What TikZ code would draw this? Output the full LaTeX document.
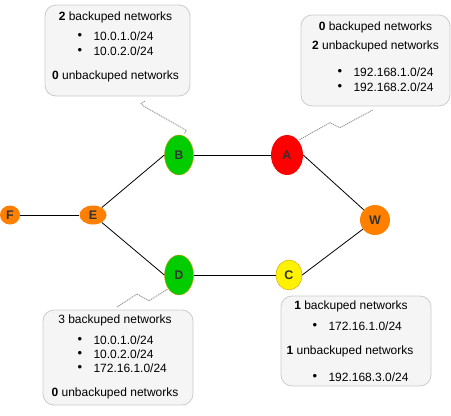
\documentclass[tikz,border=0pt]{standalone}
\usepackage{fontspec}
\setmainfont{Liberation Sans}
\usepackage{tikz}
\definecolor{orng}{RGB}{255,128,0}
\definecolor{grn}{RGB}{0,204,0}
\definecolor{edgeorng}{RGB}{215,155,0}
\definecolor{txt}{RGB}{51,51,51}
\definecolor{boxfill}{RGB}{245,245,245}
\definecolor{boxline}{RGB}{204,204,204}
\definecolor{lnk}{RGB}{150,150,150}
\tikzset{
  router/.style={ellipse, inner sep=0pt, text=txt, font=\fontsize{12.5}{14}\selectfont\bfseries},
  note/.style={draw=boxline, fill=boxfill, rounded corners=11pt, line width=0.8pt},
  txtline/.style={text=black, inner sep=0pt, font=\fontsize{12}{14}\selectfont},
  bul/.style={text=black, inner sep=0pt, font=\fontsize{13}{14}\selectfont},
  wire/.style={line width=0.8pt},
  callout/.style={lnk, line width=0.9pt, dash pattern=on 1.2pt off 0.8pt}
}
\usetikzlibrary{shapes.geometric}
\begin{document}
\begin{tikzpicture}[x=1pt,y=-1pt]
\useasboundingbox (0,0) rectangle (451,416);
\node [router, fill=orng, minimum width=20pt, minimum height=19pt] (F) at (10,215) {F};
\node [router, fill=orng, minimum width=27pt, minimum height=19pt] (E) at (93,215) {E};
\node [router, fill=grn, draw=edgeorng, minimum width=29pt, minimum height=40pt] (B) at (179,155) {B};
\node [router, fill=grn, draw=edgeorng, minimum width=29pt, minimum height=40pt] (D) at (179,275) {D};
\node [router, fill=red, minimum width=32pt, minimum height=40pt] (A) at (287,155) {A};
\node [router, fill=orng, minimum width=30pt, minimum height=30pt] (W) at (375,220) {W};
\node [router, fill=yellow, draw=edgeorng, minimum width=26pt, minimum height=30pt] (C) at (289,275) {C};
\draw [wire] (F) -- (E);
\draw [wire] (E) -- (B.west);
\draw [wire] (E) -- (D.west);
\draw [wire] (B) -- (A);
\draw [wire] (A.east) -- (W);
\draw [wire] (D) -- (C);
\draw [wire] (C.east) -- (W);
\draw [callout] (145,101) -- (141,103.5) -- (143.5,106) -- (186.5,130.5) -- (184.5,133.5);
\draw [callout] (372.7,110) -- (340,127.7) -- (330,122.7) -- (299,140);
\draw [callout] (117,307) -- (137,294) -- (149,300.7) -- (168,289);
\node [note, minimum width=145pt, minimum height=91pt] (noteB) at (117.5,50.5) {};
\node [txtline] (bB) at (115.5,17.3) {\textbf{2} backuped networks};
\node [bul] (bB1) at (80,36) {\textbullet};
\node [txtline, anchor=west] (nB1) at (93.3,36) {10.0.1.0/24};
\node [bul] (bB2) at (80,51) {\textbullet};
\node [txtline, anchor=west] (nB2) at (93.3,51) {10.0.2.0/24};
\node [txtline] (uB) at (115.5,76.7) {\textbf{0} unbackuped networks};
\node [note, minimum width=149pt, minimum height=91pt] (noteA) at (375.5,60.5) {};
\node [txtline] (bA) at (375.5,27.3) {\textbf{0} backuped networks};
\node [txtline] (uA) at (375.5,46.7) {\textbf{2} unbackuped networks};
\node [bul] (bA1) at (340,72.7) {\textbullet};
\node [txtline, anchor=west] (nA1) at (353.3,72.7) {192.168.1.0/24};
\node [bul] (bA2) at (340,87.3) {\textbullet};
\node [txtline, anchor=west] (nA2) at (353.3,87.3) {192.168.2.0/24};
\node [note, minimum width=150pt, minimum height=95pt] (noteD) at (118,357.5) {};
\node [txtline] (bD) at (115,320) {3 backuped networks};
\node [bul] (bD1) at (80,340) {\textbullet};
\node [txtline, anchor=west] (nD1) at (93.3,340) {10.0.1.0/24};
\node [bul] (bD2) at (80,354.3) {\textbullet};
\node [txtline, anchor=west] (nD2) at (93.3,354.3) {10.0.2.0/24};
\node [bul] (bD3) at (80,368.3) {\textbullet};
\node [txtline, anchor=west] (nD3) at (93.3,368.3) {172.16.1.0/24};
\node [txtline] (uD) at (115,393.3) {\textbf{0} unbackuped networks};
\node [note, minimum width=150pt, minimum height=90pt] (noteC) at (356,341) {};
\node [txtline] (bC) at (351,306.7) {\textbf{1} backuped networks};
\node [bul] (bC1) at (315,326) {\textbullet};
\node [txtline, anchor=west] (nC1) at (328.3,326) {172.16.1.0/24};
\node [txtline] (uC) at (350,351) {\textbf{1} unbackuped networks};
\node [bul] (bC2) at (315,377.7) {\textbullet};
\node [txtline, anchor=west] (nC2) at (328.3,377.7) {192.168.3.0/24};
\end{tikzpicture}
\end{document}
